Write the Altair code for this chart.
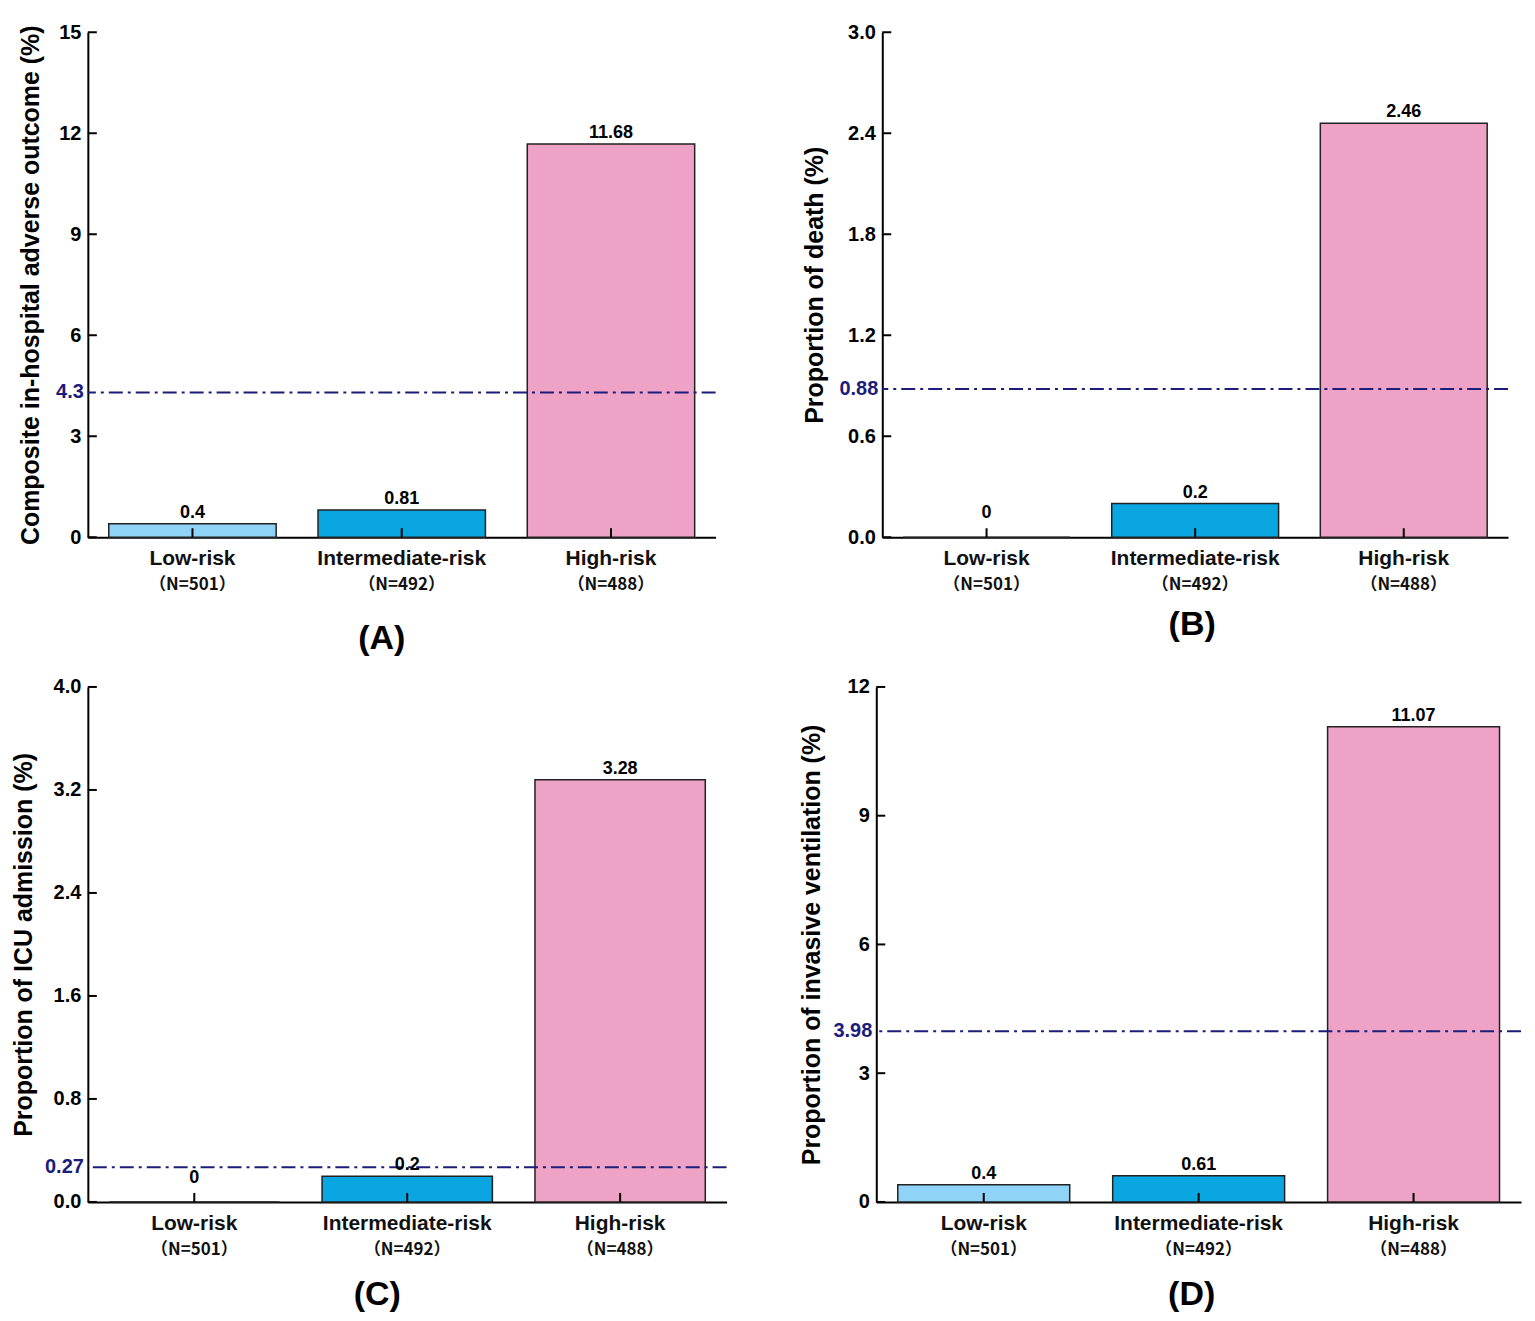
import altair as alt
import pandas as pd

categories = ["Low-risk", "Intermediate-risk", "High-risk"]
n_labels = ["（N=501）", "（N=492）", "（N=488）"]
bar_colors = ["#8fd3f7", "#0aa6e2", "#eea3c6"]

composite = [0.4, 0.81, 11.68]
death = [0, 0.2, 2.46]
icu = [0, 0.2, 3.28]
ventilation = [0.4, 0.61, 11.07]

overall_rates = [4.3, 0.88, 0.27, 3.98]

ticks_a = [0, 3, 6, 9, 12, 15]
ticks_b = [0.0, 0.6, 1.2, 1.8, 2.4, 3.0]
ticks_c = [0.0, 0.8, 1.6, 2.4, 3.2, 4.0]
ticks_d = [0, 3, 6, 9, 12]

titles = [
    "Composite in-hospital adverse outcome (%)",
    "Proportion of death (%)",
    "Proportion of ICU admission (%)",
    "Proportion of invasive ventilation (%)",
]
letters = ["(A)", "(B)", "(C)", "(D)"]

FONT = "Liberation Sans"
CJK = "Noto Sans CJK SC"
NAVY = "#1c1c7a"


def panel(values, overall, ticks, fmt, title, letter, w, h, title_x, letter_dx, letter_dy):
    df = pd.DataFrame({
        "cat": categories,
        "val": values,
        "lab": [f"{v:g}" for v in values],
        "n": n_labels,
    })
    xenc = alt.X(
        "cat:N", sort=categories,
        scale=alt.Scale(paddingInner=0.2, paddingOuter=0.1),
        axis=alt.Axis(labels=False, ticks=False, title=None, domainColor="black",
                      domainWidth=2, grid=False),
    )
    yscale = alt.Scale(domain=[ticks[0], ticks[-1]], nice=False, zero=True)
    yenc = alt.Y(
        "val:Q", scale=yscale,
        axis=alt.Axis(values=ticks, format=fmt, ticks=False, grid=False,
                      labelFont=FONT, labelFontSize=20, labelFontWeight="bold",
                      labelColor="black", labelPadding=7, domainColor="black",
                      domainWidth=2, title=title, titleFont=FONT, titleFontSize=25,
                      titleFontWeight="bold", titleColor="black", titleX=title_x,
                      titleBaseline="middle"),
    )
    base = alt.Chart(df)
    bars = base.mark_bar(stroke="#222222", strokeWidth=1.5).encode(
        x=xenc, y=yenc,
        color=alt.Color("cat:N", scale=alt.Scale(domain=categories, range=bar_colors), legend=None),
    )
    vlabels = base.transform_filter("datum.val > 0").mark_text(
        dy=-11, font=FONT, fontSize=18, fontWeight="bold", color="black"
    ).encode(x=alt.X("cat:N", sort=categories), y=alt.Y("val:Q"), text="lab:N")
    zlabels = base.transform_filter("datum.val <= 0").mark_text(
        dy=-24, font=FONT, fontSize=18, fontWeight="bold", color="black"
    ).encode(x=alt.X("cat:N", sort=categories), y=alt.Y("val:Q"), text="lab:N")
    xticks = base.mark_rule(color="black", strokeWidth=2).encode(
        x=alt.X("cat:N", sort=categories), y=alt.value(h), y2=alt.value(h - 9)
    )
    catlab = base.mark_text(font=FONT, fontSize=21, fontWeight="bold", color="#111", baseline="middle").encode(
        x=alt.X("cat:N", sort=categories), y=alt.value(h + 22), text="cat:N"
    )
    nlab = base.mark_text(font=CJK, fontSize=17, fontWeight="bold", color="#111", baseline="middle").encode(
        x=alt.X("cat:N", sort=categories), y=alt.value(h + 48), text="n:N"
    )
    tdf = pd.DataFrame({"t": ticks})
    yticks = alt.Chart(tdf).mark_rule(color="black", strokeWidth=2).encode(
        y=alt.Y("t:Q"), x=alt.value(0), x2=alt.value(9)
    )
    rdf = pd.DataFrame({"v": [overall], "lab": [f"{overall:g}"]})
    ref = alt.Chart(rdf).mark_rule(color=NAVY, strokeDash=[14, 5, 3, 5], strokeWidth=2).encode(
        y=alt.Y("v:Q")
    )
    reflab = alt.Chart(rdf).mark_text(align="right", baseline="middle", font=FONT, fontSize=20,
                                      fontWeight="bold", color=NAVY).encode(
        y=alt.Y("v:Q"), x=alt.value(-4), text="lab:N"
    )
    ldf = pd.DataFrame({"l": [letter]})
    let = alt.Chart(ldf).mark_text(font=FONT, fontSize=34, fontWeight="bold", color="black",
                                   baseline="middle").encode(
        x=alt.value(w / 2 + letter_dx), y=alt.value(h + letter_dy), text="l:N"
    )
    return alt.layer(bars, ref, vlabels, zlabels, xticks, yticks, reflab, catlab, nlab, let).properties(
        width=w, height=h
    )


pa = panel(composite, overall_rates[0], ticks_a, "d", titles[0], letters[0], 629, 506, -57, -20, 102)
pb = panel(death, overall_rates[1], ticks_b, ".1f", titles[1], letters[1], 627, 506, -68, -3, 88)
pc = panel(icu, overall_rates[2], ticks_c, ".1f", titles[2], letters[2], 640, 516, -64, -30, 93)
pd_ = panel(ventilation, overall_rates[3], ticks_d, "d", titles[3], letters[3], 646, 516, -65, -7, 93)

row1 = alt.hconcat(pa, pb, spacing=86)
row2 = alt.hconcat(pc, pd_, spacing=71)
chart = alt.vconcat(row1, row2, spacing=21).properties(
    padding={"left": 3, "top": 13, "right": 5, "bottom": 5}, background="white"
).configure(font=FONT).configure_view(stroke="transparent", strokeWidth=0)

chart.save("out.html", embed_options={"renderer": "svg", "actions": False})
